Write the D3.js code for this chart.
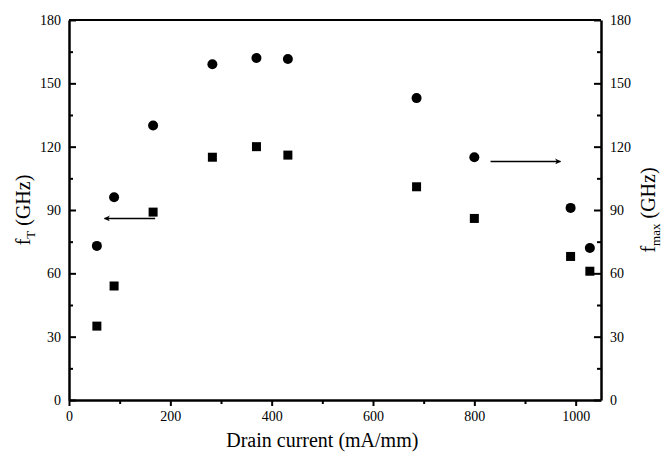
<html>
    <head>
        <meta charset="utf-8">
        <title>fT / fmax vs drain current</title>
        <style>
          body { margin: 0; background: #fff; }
          svg text { font-family: "Liberation Serif", "DejaVu Serif", serif; fill: #000; }
          .axis path, .axis line { stroke: #000; }
          .axis path { stroke-width: 2.5; }
          .axis line { stroke-width: 2; }
          .axis text { font-size: 14px; }
        </style>
    </head>
    <body>
        <div id="chart"></div>
        <script src="https://d3js.org/d3.v7.min.js"></script>
        <script>
            // drain current (mA/mm)
            const current = [55, 89, 166, 283, 370, 432, 686, 800, 990, 1028];
            // fT (GHz) - squares, left axis
            const fT = [35, 54, 89, 115, 120, 116, 101, 86, 68, 61];
            // fmax (GHz) - circles, right axis
            const fmax = [73, 96, 130, 159, 162, 161.5, 143, 115, 91, 72];

            const xTicks = [0, 200, 400, 600, 800, 1000];
            const yTicks = [0, 30, 60, 90, 120, 150, 180];

            // arrows (data units): [x from, x to, y]
            const arrowLeft = [170, 70, 86];
            const arrowRight = [832, 970, 113];

            let w = 666, h = 460;
            let margin = { top: 20, right: 65, bottom: 60, left: 69 },
                width = w - margin.left - margin.right,
                height = h - margin.top - margin.bottom;

            let svg = d3.select("#chart").append("svg")
                .attr("width", w)
                .attr("height", h);

            let g = svg.append("g")
                .attr("transform", "translate(" + margin.left + "," + margin.top + ")");

            let xScale = d3.scaleLinear().domain([0, 1050]).range([0, width]);
            let yScale = d3.scaleLinear().domain([0, 180]).range([height, 0]);

            // minor ticks
            let xMinor = d3.range(100, 1050, 200);
            let yMinor = d3.range(15, 180, 30);

            g.append("g").attr("class", "axis")
                .attr("transform", "translate(0," + height + ")")
                .call(d3.axisBottom(xScale).tickValues(xMinor).tickSize(4).tickFormat(""))
                .select(".domain").remove();
            g.append("g").attr("class", "axis")
                .call(d3.axisLeft(yScale).tickValues(yMinor).tickSize(-4).tickFormat(""))
                .select(".domain").remove();
            g.append("g").attr("class", "axis")
                .attr("transform", "translate(" + width + ",0)")
                .call(d3.axisRight(yScale).tickValues(yMinor).tickSize(-4).tickFormat(""))
                .select(".domain").remove();

            // major axes
            g.append("g").attr("class", "axis")
                .attr("transform", "translate(0," + height + ")")
                .call(d3.axisBottom(xScale).tickValues(xTicks).tickFormat(d3.format("d"))
                  .tickSizeInner(6).tickSizeOuter(0).tickPadding(5));
            g.append("g").attr("class", "axis")
                .call(d3.axisLeft(yScale).tickValues(yTicks).tickSizeInner(-7).tickSizeOuter(0).tickPadding(8));
            g.append("g").attr("class", "axis")
                .attr("transform", "translate(" + width + ",0)")
                .call(d3.axisRight(yScale).tickValues(yTicks).tickSizeInner(-7).tickSizeOuter(0).tickPadding(9));

            // top frame line
            g.append("line")
                .attr("x1", 0).attr("x2", width)
                .attr("y1", 0).attr("y2", 0)
                .attr("stroke", "#000").attr("stroke-width", 2);

            // fmax circles
            g.selectAll("circle.fmax")
                .data(current).enter()
                .append("circle")
                .attr("class", "fmax")
                .attr("cx", function(d){ return xScale(d); })
                .attr("cy", function(d, i){ return yScale(fmax[i]); })
                .attr("r", 5)
                .style("fill", "#000");

            // fT squares
            let s = 9;
            g.selectAll("rect.ft")
                .data(current).enter()
                .append("rect")
                .attr("class", "ft")
                .attr("x", function(d){ return xScale(d) - s/2; })
                .attr("y", function(d, i){ return yScale(fT[i]) - s/2; })
                .attr("width", s)
                .attr("height", s)
                .style("fill", "#000");

            // arrows
            svg.append("defs").append("marker")
                .attr("id", "head")
                .attr("viewBox", "0 0 10 10")
                .attr("refX", 9).attr("refY", 5)
                .attr("markerWidth", 10).attr("markerHeight", 6)
                .attr("markerUnits", "userSpaceOnUse")
                .attr("orient", "auto")
                .append("path")
                .attr("d", "M0,0 L10,5 L0,10 L3,5 Z")
                .attr("fill", "#000");

            [arrowLeft, arrowRight].forEach(function(a){
              g.append("line")
                .attr("x1", xScale(a[0])).attr("x2", xScale(a[1]))
                .attr("y1", yScale(a[2])).attr("y2", yScale(a[2]))
                .attr("stroke", "#000").attr("stroke-width", 1.5)
                .attr("marker-end", "url(#head)");
            });

            // axis titles
            svg.append("text")
                .attr("x", margin.left + xScale(500))
                .attr("y", 447)
                .attr("text-anchor", "middle")
                .style("font-size", "20px")
                .text("Drain current (mA/mm)");

            let yl = svg.append("text")
                .attr("transform", "translate(30," + (margin.top + yScale(90)) + ") rotate(-90)")
                .attr("text-anchor", "middle")
                .style("font-size", "20px");
            yl.append("tspan").text("f");
            yl.append("tspan").attr("dy", 5).style("font-size", "13px").text("T");
            yl.append("tspan").attr("dy", -5).text(" (GHz)");

            let yr = svg.append("text")
                .attr("transform", "translate(655," + (margin.top + yScale(90)) + ") rotate(-90)")
                .attr("text-anchor", "middle")
                .style("font-size", "20px");
            yr.append("tspan").text("f");
            yr.append("tspan").attr("dy", 5).style("font-size", "13px").text("max");
            yr.append("tspan").attr("dy", -5).text(" (GHz)");
        </script>
    </body>
</html>
